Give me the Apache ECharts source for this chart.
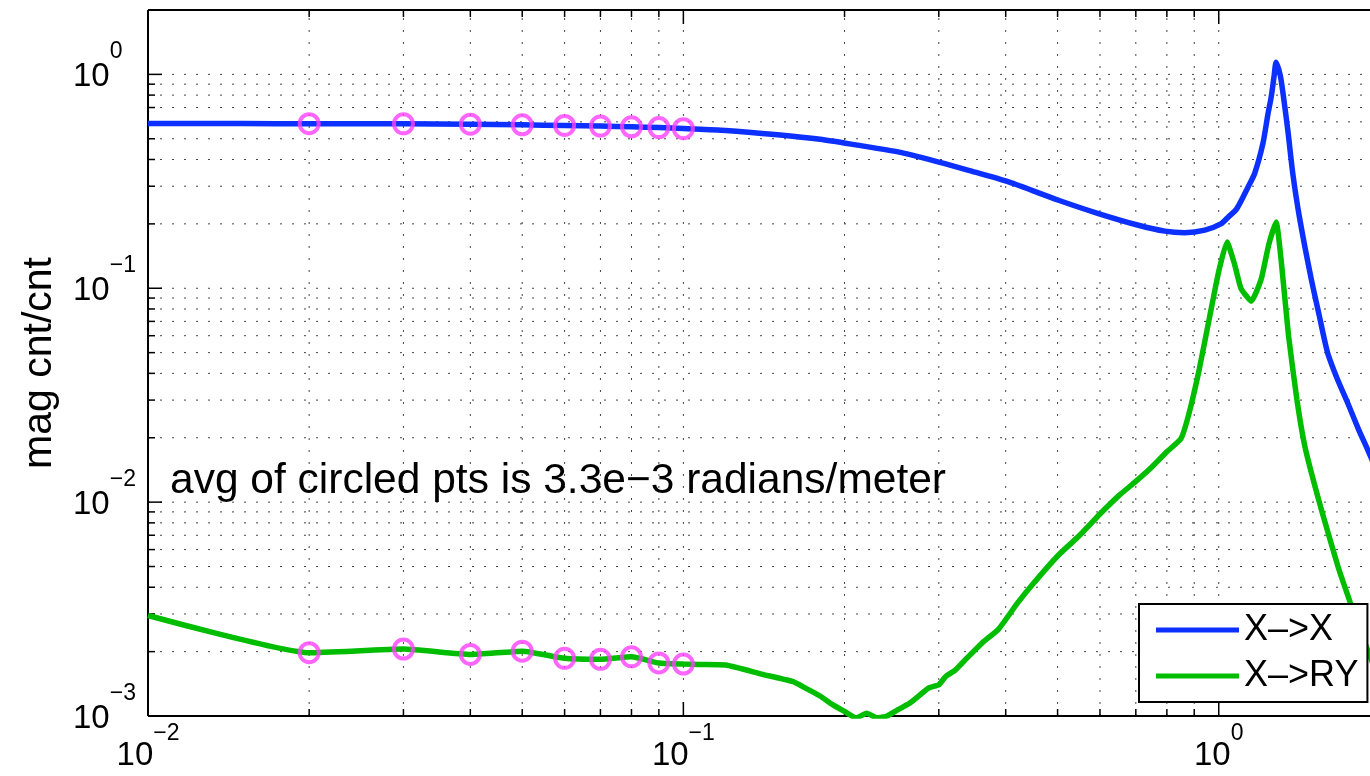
<!DOCTYPE html>
<html><head><meta charset="utf-8">
<script src="https://cdn.jsdelivr.net/npm/echarts@6/dist/echarts.min.js"></script>
<style>html,body{margin:0;padding:0;background:#fff}#c{width:1370px;height:776px}</style>
</head><body><div id="c"></div>
<script>
// ---------------- data ----------------
const seriesNames = ['X\u2013>X', 'X\u2013>RY'];
const yTitle = 'mag cnt/cnt';
const note = 'avg of circled pts is 3.3e\u22123 radians/meter';

const xRange = [0.01, 1.892];
const yRange = [0.001, 2];

const xxFreq = [0.01, 0.015, 0.02, 0.03, 0.04, 0.05, 0.06, 0.07, 0.08, 0.09, 0.1, 0.12, 0.15, 0.18, 0.21, 0.253, 0.30, 0.341, 0.405, 0.502, 0.596, 0.708, 0.793, 0.864, 0.942, 1.009, 1.041, 1.08, 1.134, 1.167, 1.209, 1.236, 1.253, 1.268, 1.28, 1.295, 1.308, 1.346, 1.375, 1.415, 1.488, 1.54, 1.597, 1.67, 1.742, 1.82, 1.897, 1.95];
const xxMag  = [0.590, 0.589, 0.588, 0.587, 0.585, 0.581, 0.577, 0.573, 0.569, 0.564, 0.558, 0.547, 0.522, 0.497, 0.468, 0.433, 0.389, 0.356, 0.314, 0.258, 0.2235, 0.197, 0.185, 0.182, 0.187, 0.200, 0.215, 0.235, 0.297, 0.344, 0.474, 0.655, 0.783, 0.97, 1.14, 1.05, 0.938, 0.547, 0.344, 0.215, 0.111, 0.075, 0.05, 0.037, 0.029, 0.0222, 0.0176, 0.015];

const xryFreq = [0.01, 0.02, 0.03, 0.04, 0.05, 0.06, 0.07, 0.08, 0.09, 0.1, 0.107, 0.12, 0.14, 0.16, 0.17, 0.18, 0.19, 0.2, 0.21, 0.22, 0.23, 0.24, 0.25, 0.265, 0.287, 0.30, 0.309, 0.322, 0.336, 0.361, 0.388, 0.42, 0.45, 0.5, 0.55, 0.6, 0.65, 0.7, 0.75, 0.8, 0.85, 0.88, 0.92, 0.96, 1.0, 1.036, 1.07, 1.1, 1.15, 1.2, 1.24, 1.28, 1.31, 1.35, 1.4, 1.45, 1.55, 1.67, 1.76, 1.85, 1.95];
const xryMag  = [2.95e-3, 1.977e-3, 2.056e-3, 1.94e-3, 2.01e-3, 1.86e-3, 1.84e-3, 1.89e-3, 1.77e-3, 1.75e-3, 1.74e-3, 1.73e-3, 1.57e-3, 1.45e-3, 1.34e-3, 1.24e-3, 1.13e-3, 1.05e-3, 0.98e-3, 1.03e-3, 0.98e-3, 1.0e-3, 1.06e-3, 1.15e-3, 1.35e-3, 1.40e-3, 1.53e-3, 1.64e-3, 1.83e-3, 2.19e-3, 2.55e-3, 3.35e-3, 4.15e-3, 5.6e-3, 7.0e-3, 8.8e-3, 1.07e-2, 1.25e-2, 1.46e-2, 1.72e-2, 1.98e-2, 2.6e-2, 4.2e-2, 7.2e-2, 0.12, 0.1646, 0.13, 0.1, 0.087, 0.11, 0.16, 0.204, 0.13, 0.06, 0.03, 0.018, 9.5e-3, 5.0e-3, 3.4e-3, 2.4e-3, 1.7e-3];

const circledFreq = [0.02, 0.03, 0.04, 0.05, 0.06, 0.07, 0.08, 0.09, 0.1];
const circledXX   = [0.588, 0.587, 0.585, 0.581, 0.577, 0.573, 0.569, 0.564, 0.557];
const circledRY   = [1.977e-3, 2.056e-3, 1.94e-3, 2.01e-3, 1.86e-3, 1.84e-3, 1.89e-3, 1.77e-3, 1.75e-3];

// ---------------- helpers ----------------
const FONT = '"Liberation Sans", Arial, Helvetica, sans-serif';
const zip = (a, b) => a.map((v, i) => [v, b[i]]);

function decadeValues(lo, hi, minor) {
  const out = [];
  for (let e = Math.floor(Math.log10(lo)); e <= Math.ceil(Math.log10(hi)); e++) {
    const ks = minor ? [2,3,4,5,6,7,8,9] : [1];
    ks.forEach(k => { const v = k * Math.pow(10, e); if (v > lo * 1.0001 && v < hi * 0.9999) out.push(v); });
  }
  return out;
}
const xMajor = decadeValues(xRange[0] * 0.5, xRange[1], false);
const xMinor = decadeValues(xRange[0], xRange[1], true);
const yMajor = decadeValues(yRange[0] * 0.5, yRange[1], false);
const yMinor = decadeValues(yRange[0], yRange[1], true);

function powLabel(v) {
  const e = Math.log10(v), r = Math.round(e);
  if (Math.abs(e - r) > 1e-6) return '';
  const exp = r < 0 ? '\u2212' + (-r) : String(r);
  return '{b|10}{s|' + exp + '}';
}

function gridRender(params, api) {
  if (params.dataIndex !== 0) return;
  const bl = api.coord([xRange[0], yRange[0]]);
  const tr = api.coord([xRange[1], yRange[1]]);
  const L = bl[0], B = bl[1], R = tr[0] + 20, T = tr[1];
  const dot = { stroke: '#444', lineWidth: 1, lineDash: [2, 10], fill: null };
  const tk = { stroke: '#000', lineWidth: 1.5, fill: null };
  const bd = { stroke: '#000', lineWidth: 2, fill: null };
  const ch = [];
  const line = (x1, y1, x2, y2, st) => ch.push({ type: 'line', shape: { x1, y1, x2, y2 }, style: st });
  xMajor.concat(xMinor).forEach(v => {
    if (v <= xRange[0] * 1.0001) return;
    const x = api.coord([v, yRange[0]])[0];
    line(x, B, x, T, dot);
  });
  yMajor.concat(yMinor).forEach(v => {
    if (v <= yRange[0] * 1.0001) return;
    const y = api.coord([xRange[0], v])[1];
    line(L, y, R, y, dot);
  });
  xMajor.forEach(v => { const x = api.coord([v, yRange[0]])[0]; line(x, B, x, B - 14, tk); line(x, T, x, T + 14, tk); });
  xMinor.forEach(v => { const x = api.coord([v, yRange[0]])[0]; line(x, B, x, B - 7, tk); line(x, T, x, T + 7, tk); });
  yMajor.forEach(v => { const y = api.coord([xRange[0], v])[1]; line(L, y, L + 14, y, tk); });
  yMinor.forEach(v => { const y = api.coord([xRange[0], v])[1]; line(L, y, L + 7, y, tk); });
  line(L, B, R, B, bd);
  line(L, T, R, T, bd);
  line(L, T, L, B, bd);
  return { type: 'group', children: ch };
}

const chart = echarts.init(document.getElementById('c'), null, { renderer: 'canvas' });
chart.setOption({
  animation: false,
  backgroundColor: '#fff',
  grid: { left: 148, right: 0, top: 10, bottom: 60, show: false },
  xAxis: {
    type: 'log', logBase: 10, min: xRange[0], max: xRange[1],
    axisLine: { show: false }, axisTick: { show: false }, splitLine: { show: false },
    axisLabel: {
      formatter: powLabel, margin: 6, color: '#000', fontFamily: FONT, hideOverlap: false,
      rich: {
        b: { fontSize: 33, lineHeight: 68, fontFamily: FONT, color: '#000' },
        s: { fontSize: 23, lineHeight: 23, verticalAlign: 'top', fontFamily: FONT, color: '#000' }
      }
    }
  },
  yAxis: {
    type: 'log', logBase: 10, min: yRange[0], max: yRange[1],
    name: yTitle, nameLocation: 'middle', nameGap: 88,
    nameTextStyle: { fontSize: 41, fontFamily: FONT, color: '#000' },
    axisLine: { show: false }, axisTick: { show: false }, splitLine: { show: false },
    axisLabel: {
      formatter: powLabel, margin: 75, align: 'left', color: '#000', fontFamily: FONT, hideOverlap: false,
      rich: {
        b: { fontSize: 33, lineHeight: 68, fontFamily: FONT, color: '#000', padding: [5, 0, 0, 0] },
        s: { fontSize: 23, lineHeight: 23, verticalAlign: 'top', fontFamily: FONT, color: '#000' }
      }
    }
  },
  legend: {
    data: seriesNames, orient: 'vertical', left: 1139, top: 604,
    padding: [6, 9, 6, 17], itemGap: 6, itemWidth: 83, itemHeight: 5, icon: 'rect',
    backgroundColor: '#fff', borderColor: '#000', borderWidth: 2, borderRadius: 0,
    selectedMode: false,
    textStyle: { fontSize: 36, lineHeight: 40, color: '#000', fontFamily: FONT }
  },
  graphic: [{
    type: 'text', left: 170, top: 460, z: 10,
    style: { text: note, font: '42.5px ' + FONT, fill: '#000' }
  }],
  series: [
    { type: 'custom', name: 'grid', renderItem: gridRender, data: [[1, 1]], z: 1, silent: true, clip: false },
    { type: 'line', name: seriesNames[0], data: zip(xxFreq, xxMag), showSymbol: false, symbol: 'none', smooth: 0.25,
      color: '#0b30ff', lineStyle: { width: 5.5, color: '#0b30ff' }, z: 3 },
    { type: 'line', name: seriesNames[1], data: zip(xryFreq, xryMag), showSymbol: false, symbol: 'none', smooth: 0.15,
      color: '#00bd00', lineStyle: { width: 5.5, color: '#00bd00' }, z: 3 },
    { type: 'scatter', name: 'circled X', data: zip(circledFreq, circledXX), symbol: 'circle', symbolSize: 19,
      itemStyle: { color: 'rgba(0,0,0,0)', borderColor: '#ff40ff', borderWidth: 4 }, z: 4 },
    { type: 'scatter', name: 'circled RY', data: zip(circledFreq, circledRY), symbol: 'circle', symbolSize: 19,
      itemStyle: { color: 'rgba(0,0,0,0)', borderColor: '#ff40ff', borderWidth: 4 }, z: 4 }
  ]
});
</script></body></html>
